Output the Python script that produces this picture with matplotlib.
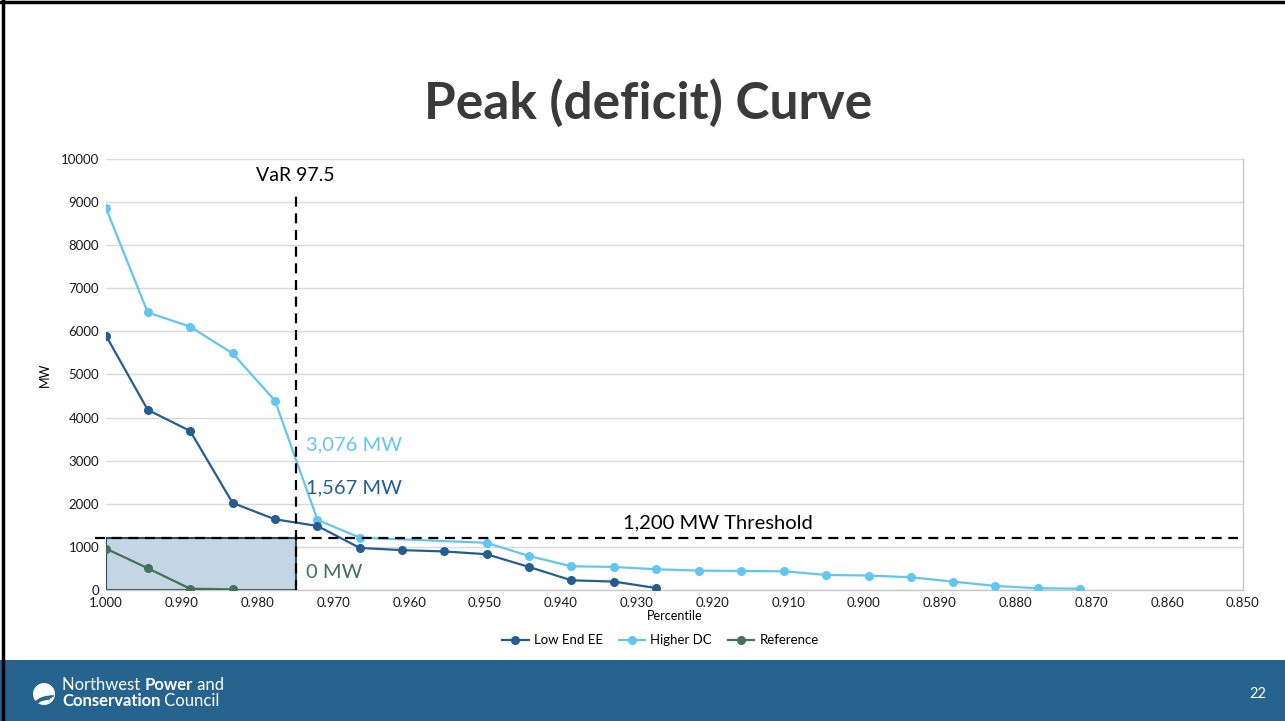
import numpy as np
import matplotlib.pyplot as plt
from matplotlib.patches import Rectangle, Circle, Arc
from matplotlib.lines import Line2D

plt.rcParams['font.family'] = ['Lato', 'DejaVu Sans']

# series values (percentile, MW)
low_end_pct = [1.0000, 0.9945, 0.9889, 0.9833, 0.9777, 0.9721, 0.9665,
               0.9609, 0.9554, 0.9498, 0.9442, 0.9386, 0.9330, 0.9274]
low_end_mw = [5900, 4180, 3690, 2020, 1640, 1485, 975,
              925, 895, 830, 535, 225, 195, 45]

higher_dc_pct = [1.0000, 0.9945, 0.9889, 0.9833, 0.9777, 0.9721, 0.9665,
                 0.9498, 0.9442, 0.9386, 0.9330, 0.9274, 0.9218, 0.9162,
                 0.9106, 0.9050, 0.8994, 0.8938, 0.8883, 0.8827, 0.8771,
                 0.8715]
higher_dc_mw = [8860, 6440, 6110, 5490, 4390, 1625, 1215,
                1095, 790, 550, 535, 480, 450, 440,
                435, 350, 335, 295, 195, 95, 40,
                30]

reference_pct = [1.0000, 0.9945, 0.9889, 0.9833]
reference_mw = [960, 505, 30, 15]

var_pct = 0.975
threshold_mw = 1200
labels_at_var = {"Higher DC": 3076, "Low End EE": 1567, "Reference": 0}

c_low = '#245e91'
c_high = '#62c6f2'
c_ref = '#45705a'

fig = plt.figure(figsize=(12.85, 7.21), dpi=100)
ax = fig.add_axes([0.0825, 0.1817, 0.8848, 0.5978])

# shaded zone below threshold and left of VaR
ax.add_patch(Rectangle((var_pct, 0), 1.0 - var_pct, threshold_mw,
                       facecolor='#c4d5e3', edgecolor='#2b4a5f', lw=1.5, zorder=1))

ax.plot(low_end_pct, low_end_mw, '-o', color=c_low, lw=1.6, ms=5.5, zorder=4,
        label='Low End EE')
ax.plot(higher_dc_pct, higher_dc_mw, '-o', color=c_high, lw=1.6, ms=5.5, zorder=3,
        label='Higher DC')
ax.plot(reference_pct, reference_mw, '-o', color=c_ref, lw=1.6, ms=5.5, zorder=4,
        label='Reference')

# VaR and threshold dashed lines
ax.plot([var_pct, var_pct], [0, 9250], color='black', lw=1.6, dashes=(4.5, 3), zorder=5)
ax.plot([1.0014, 0.8507], [threshold_mw, threshold_mw], color='black', lw=1.6,
        dashes=(4.5, 3), zorder=5, clip_on=False)

ax.text(var_pct, 9620, 'VaR 97.5', ha='center', va='center', fontsize=14, color='black')
ax.text(0.9193, threshold_mw + 150, '1,200 MW Threshold', ha='center', va='bottom',
        fontsize=14.5, color='black')
ax.text(0.9736, 3360, f"{labels_at_var['Higher DC']:,} MW", ha='left', va='center',
        fontsize=14.5, color=c_high)
ax.text(0.9736, 2360, f"{labels_at_var['Low End EE']:,} MW", ha='left', va='center',
        fontsize=14.5, color=c_low)
ax.text(0.9736, 405, f"{labels_at_var['Reference']:,} MW", ha='left', va='center',
        fontsize=14.5, color=c_ref)

ax.set_xlim(1.0, 0.85)
ax.set_ylim(0, 10000)
ax.set_xticks(np.arange(0.85, 1.0001, 0.01))
ax.xaxis.set_major_formatter(plt.FormatStrFormatter('%.3f'))
ax.set_yticks(np.arange(0, 10001, 1000))
ax.tick_params(length=0, labelsize=9.5, colors='#1a1a1a', pad=5)
ax.grid(axis='y', color='#d9d9d9', lw=1)
ax.set_axisbelow(True)
for s in ['top', 'left']:
    ax.spines[s].set_visible(False)
for s in ['bottom', 'right']:
    ax.spines[s].set_color('#c8c8c8')
    ax.spines[s].set_linewidth(1)

ax.set_xlabel('Percentile', fontsize=9, labelpad=1)
ax.set_ylabel('MW', fontsize=9, labelpad=7)

fig.legend(loc='center', bbox_to_anchor=(0.514, 0.112), ncol=3, frameon=False,
           fontsize=9.5, handlelength=2.0, columnspacing=1.2, handletextpad=0.4)

fig.text(0.504, 0.856, 'Peak (deficit) Curve', ha='center', va='center',
         fontsize=37, fontweight='bold', color='#3a3a3a')

# slide frame and footer band
fig.add_artist(Rectangle((0, 0), 1, 61 / 721, transform=fig.transFigure,
                         facecolor='#26638f', edgecolor='none'))
fig.add_artist(Line2D([0.0025, 0.0025], [0, 1], transform=fig.transFigure,
                      color='black', lw=2.5))
fig.add_artist(Line2D([0, 1], [0.9975, 0.9975], transform=fig.transFigure,
                      color='black', lw=2.5))

# logo
fig.add_artist(Circle((44, 27), 11, transform=None, facecolor='white', edgecolor='none'))
for r, off in [(14, 6), (17, 8), (20, 10)]:
    fig.add_artist(Arc((44 + off, 27 - 12), 2 * r, r, theta1=90, theta2=170, transform=None,
                       color='#26638f', lw=1.2))

fig.canvas.draw()
renderer = fig.canvas.get_renderer()


def put_run(x, y, parts):
    # draw a row of text pieces with mixed weights, left to right
    for txt, weight in parts:
        t = fig.text(x / 1285, y / 721, txt, fontsize=12, fontweight=weight,
                     color='white', ha='left', va='center')
        bb = t.get_window_extent(renderer)
        x += bb.width


put_run(62, 721 - 685, [('Northwest ', 'normal'), ('Power', 'bold'), (' and', 'normal')])
put_run(62, 721 - 701, [('Conservation', 'bold'), (' Council', 'normal')])

fig.text(1258 / 1285, 27 / 721, '22', fontsize=10.5, color='white', ha='center', va='center')

fig.savefig('out.png', dpi=100)
